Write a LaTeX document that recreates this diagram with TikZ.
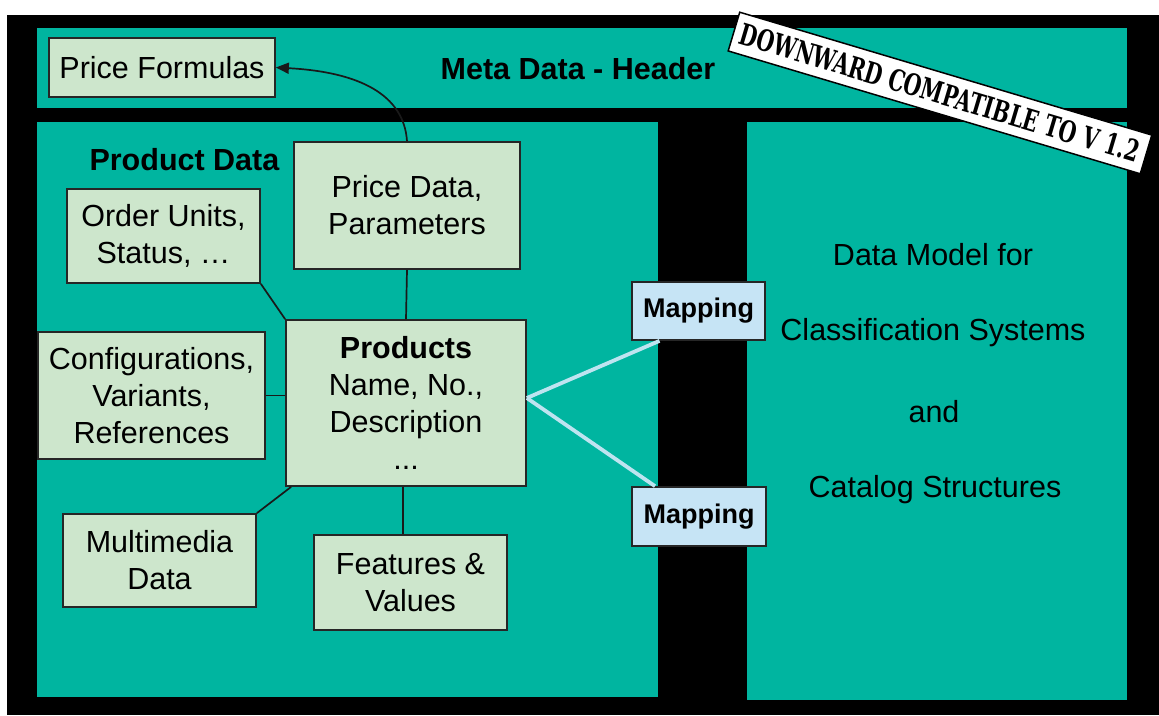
\documentclass[tikz,border=0pt]{standalone}
\usepackage{fontspec}
\setmainfont{Liberation Sans}
\newfontfamily\stampfont{DejaVu Serif Condensed}
\usetikzlibrary{arrows.meta}
\definecolor{teal1}{RGB}{0,181,160}
\definecolor{boxfill}{RGB}{205,230,204}
\definecolor{mapfill}{RGB}{198,228,245}
\definecolor{mapline}{RGB}{190,228,240}
\begin{document}
\begin{tikzpicture}[x=1pt,y=-1pt,
  every node/.style={font=\fontsize{30.5}{37}\selectfont, text=black},
  databox/.style={draw=black!85, line width=1.7pt, fill=boxfill, inner sep=0pt, align=center},
  mapbox/.style={draw=black!85, line width=1.7pt, fill=mapfill, inner sep=0pt, align=center,
    font=\fontsize{27}{32}\selectfont\bfseries},
  conn/.style={draw=black!90, line width=1.7pt},
  mapconn/.style={draw=mapline, line width=3.8pt},
  area/.style={fill=teal1, draw=none}]
\useasboundingbox (0,0) rectangle (1159,715);
\fill[white] (0,0) rectangle (1159,715);
% black frame and teal areas
\fill[black] (7,15) rectangle (1159,715);
\path[area] (37,28) rectangle (1127,108);
\path[area] (37,122) rectangle (658,697);
\path[area] (747,122) rectangle (1127,700);
% titles
\node (meta) at (578,69) {\bfseries Meta Data - Header};
\node[anchor=west] (pdl) at (86,160) {\bfseries Product Data};
% boxes
\node[databox, minimum width=226pt, minimum height=59pt] (pf) at (162,67.5) {Price Formulas};
\node[databox, minimum width=226pt, minimum height=127pt] (pd) at (407,205.5) {Price Data,\\Parameters};
\node[databox, minimum width=193pt, minimum height=94pt] (ou) at (163.5,236) {Order Units,\\Status, \dots};
\node[databox, minimum width=227pt, minimum height=127pt] (cf) at (151.5,395.5) {Configurations,\\Variants,\\References};
\node[databox, minimum width=240pt, minimum height=166pt] (pr) at (406,403) {\textbf{Products}\\Name, No.,\\Description\\...};
\node[databox, minimum width=193pt, minimum height=93pt] (mm) at (159.5,560.5) {Multimedia\\Data};
\node[databox, minimum width=193pt, minimum height=95pt] (ft) at (410.5,582.5) {Features \&\\Values};
% right area text
\node (r1) at (933,255) {Data Model for};
\node (r2) at (933,333) {Classification Systems};
\node (r3) at (934,412) {and};
\node (r4) at (935,490) {Catalog Structures};
% connectors
\draw[conn] (pd.south) -- (pr.north);
\draw[conn] (ou.south east) -- (pr.north west);
\draw[conn] (cf.east) -- (cf.east -| pr.west);
\draw[conn] (mm.north east) -- ([xshift=6pt]pr.south west);
\draw[conn] ([xshift=-3pt]pr.south) -- ([xshift=-3pt]pr.south |- ft.north);
\draw[conn, -{Triangle[length=13pt,width=11pt]}] (pd.north) .. controls (404,95) and (360,72) .. (pf.east);
% mapping
\node[mapbox, minimum width=133pt, minimum height=58pt] (m1) at (698.5,311) {Mapping};
\node[mapbox, minimum width=134pt, minimum height=59pt] (m2) at (699,516.5) {Mapping};
\draw[mapconn] ([yshift=5pt]pr.east) -- ([xshift=-39pt]m1.south);
\draw[mapconn] ([yshift=5pt]pr.east) -- ([xshift=-44pt]m2.north);
% stamp
\node[draw=black, line width=1.5pt, fill=white, rotate=-16.6, inner xsep=7pt, inner ysep=9pt] (stamp) at (940,93)
  {\resizebox{416pt}{22pt}{\stampfont\bfseries DOWNWARD COMPATIBLE TO V 1.2}};
\end{tikzpicture}
\end{document}
